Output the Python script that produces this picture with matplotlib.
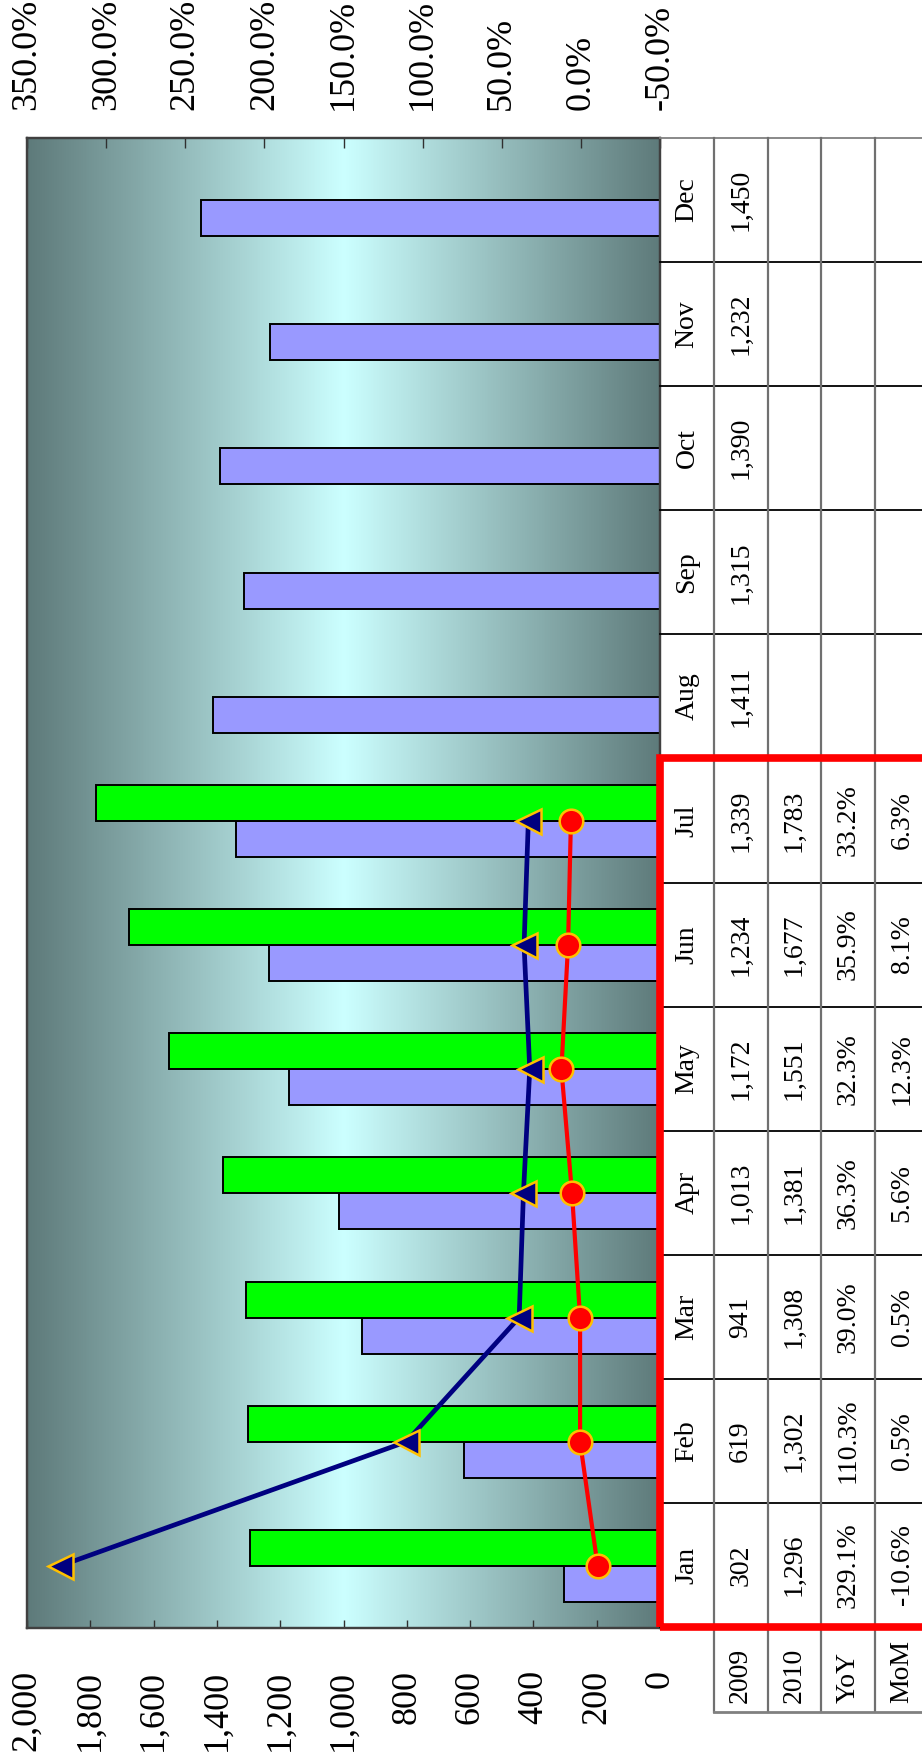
import numpy as np
import matplotlib
matplotlib.use("Agg")
import matplotlib.pyplot as plt
from matplotlib.colors import LinearSegmentedColormap
from matplotlib.patches import Rectangle

# monthly sales (chart is an Excel column chart turned 90 degrees)
months = ['Jan', 'Feb', 'Mar', 'Apr', 'May', 'Jun', 'Jul', 'Aug', 'Sep', 'Oct', 'Nov', 'Dec']
sales_2009 = [302, 619, 941, 1013, 1172, 1234, 1339, 1411, 1315, 1390, 1232, 1450]
sales_2010 = [1296, 1302, 1308, 1381, 1551, 1677, 1783]
yoy = [329.1, 110.3, 39.0, 36.3, 32.3, 35.9, 33.2]
mom = [-10.6, 0.5, 0.5, 5.6, 12.3, 8.1, 6.3]
row_labels = ['2009', '2010', 'YoY', 'MoM']
value_ticks = [0, 200, 400, 600, 800, 1000, 1200, 1400, 1600, 1800, 2000]
pct_ticks = [-50, 0, 50, 100, 150, 200, 250, 300, 350]

plt.rcParams['font.family'] = ['Liberation Serif', 'DejaVu Serif']

W, H = 922, 1764
fig = plt.figure(figsize=(W / 100, H / 100), dpi=100)


def px_box(x0, y0, x1, y1):
    # pixel box (top-left origin) -> figure fraction
    return [x0 / W, 1 - y1 / H, (x1 - x0) / W, (y1 - y0) / H]


ax = fig.add_axes(px_box(27, 138, 660, 1628))

# background gradient, dark at the edges, light in the middle
cmap = LinearSegmentedColormap.from_list('bg', ['#5E7A7A', '#CCFFFF', '#5E7A7A'])
grad = np.linspace(0, 1, 512).reshape(1, -1)
ax.imshow(grad, extent=(0, 1, 0, 1), transform=ax.transAxes, cmap=cmap,
          aspect='auto', interpolation='bilinear', zorder=0)

ypos = np.arange(len(months))
bh = 0.29
ax.barh(ypos - bh / 2, sales_2009, height=bh, color='#9999FF',
        edgecolor='black', linewidth=1.4, zorder=2)
ax.barh(ypos[:len(sales_2010)] + bh / 2, sales_2010, height=bh, color='#00FF00',
        edgecolor='black', linewidth=1.4, zorder=2)

ax.set_xlim(2000, 0)
ax.set_ylim(-0.5, 11.5)
ax.set_yticks([])
ax.set_xticks(value_ticks)
ax.set_xticklabels([f'{v:,}' for v in value_ticks], rotation=90)
ax.tick_params(axis='x', direction='in', length=6, width=1, pad=30, labelsize=26,
               color='#303030')

# secondary axis for the percentages
ax2 = ax.twiny()
ax2.set_xlim(350, -50)
ax2.plot(yoy, ypos[:len(yoy)], color='#000080', lw=3.4, marker='<', ms=18,
         mfc='#000080', mec='#FFC000', mew=1.8, zorder=4)
ax2.plot(mom, ypos[:len(mom)], color='#FF0000', lw=3.0, marker='o', ms=17,
         mfc='#FF0000', mec='#FFC000', mew=1.8, zorder=4)
ax2.set_xticks(pct_ticks)
ax2.set_xticklabels([f'{p:.1f}%' for p in pct_ticks], rotation=90)
ax2.tick_params(axis='x', direction='in', length=7, width=1, pad=20, labelsize=26,
                color='#303030')

for a in (ax, ax2):
    for s in a.spines.values():
        s.set_color('#404040')
        s.set_linewidth(1.6)

# data table on the right
hdr = 0.685
tab = fig.add_axes(px_box(660, 138, 929, 1712))
tab.set_xlim(0, 5)
tab.set_ylim(-0.5 - hdr, 11.5)
tab.axis('off')

for k in range(len(months) + 1):
    y = k - 0.5
    tab.plot([0, 5], [y, y], color='black' if k < len(months) else '#808080',
             lw=1.3, clip_on=False)
for c in range(1, 5):
    tab.plot([c, c], [-0.5 - hdr, 11.5], color='#707070', lw=1.6, clip_on=False)
tab.plot([1, 5], [-0.5 - hdr, -0.5 - hdr], color='#808080', lw=2, clip_on=False)

fs = 20
for i, m in enumerate(months):
    tab.text(0.5, i, m, rotation=90, ha='center', va='center', fontsize=fs)
    tab.text(1.5, i, f'{sales_2009[i]:,}', rotation=90, ha='center', va='center', fontsize=fs)
for i in range(len(sales_2010)):
    tab.text(2.5, i, f'{sales_2010[i]:,}', rotation=90, ha='center', va='center', fontsize=fs)
    tab.text(3.5, i, f'{yoy[i]:.1f}%', rotation=90, ha='center', va='center', fontsize=fs)
    tab.text(4.5, i, f'{mom[i]:.1f}%', rotation=90, ha='center', va='center', fontsize=fs)
for c, lab in enumerate(row_labels):
    tab.text(c + 1.5, -0.5 - hdr + 0.07, lab, rotation=90, ha='center', va='bottom',
             fontsize=fs)

# red highlight box round the 2010 months
tab.add_patch(Rectangle((0, -0.5), 6, len(sales_2010), fill=False, edgecolor='#FF0000',
                        lw=5.5, clip_on=False, zorder=5))

fig.savefig('out.png', dpi=100)
